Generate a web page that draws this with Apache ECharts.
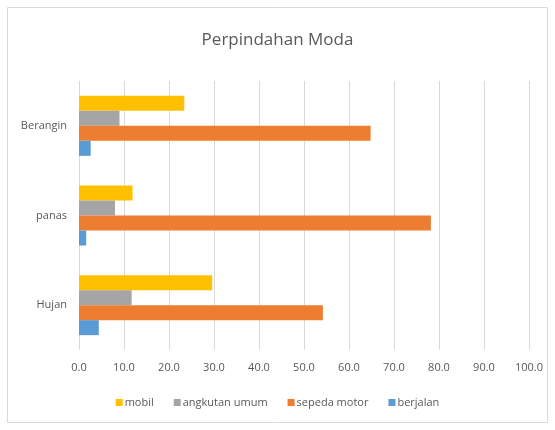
<!DOCTYPE html>
<html>
<head>
    <meta charset="utf-8">
    <title>Perpindahan Moda</title>
    <script src="https://cdn.jsdelivr.net/npm/echarts@6/dist/echarts.min.js"></script>
    <style>
        html, body { margin: 0; padding: 0; background: #fff; }
        #chart { width: 555px; height: 430px; }
    </style>
</head>
<body>
    <div id="chart"></div>
    <script>
        // kategori dari bawah ke atas
        var categories = ['Hujan', 'panas', 'Berangin'];
        var mobil = [29.6, 11.9, 23.4];
        var angkutanUmum = [11.7, 8.0, 9.0];
        var sepedaMotor = [54.2, 78.2, 64.8];
        var berjalan = [4.4, 1.6, 2.6];
        var legendNames = ['mobil', 'angkutan umum', 'sepeda motor', 'berjalan'];

        var textColor = '#595959';
        var fontFamily = '"Open Sans", "Liberation Sans", sans-serif';

        function bar(name, data, color) {
            return {
                name: name,
                type: 'bar',
                data: data,
                barWidth: 15,
                barGap: '0%',
                itemStyle: { color: color }
            };
        }

        var chart = echarts.init(document.getElementById('chart'));
        chart.setOption({
            animation: false,
            textStyle: { fontFamily: fontFamily },
            title: {
                text: 'Perpindahan Moda',
                left: 'center',
                top: 27,
                textStyle: { fontSize: 17, fontWeight: 'normal', color: textColor, fontFamily: fontFamily }
            },
            graphic: [{
                type: 'rect',
                shape: { x: 7.5, y: 7.5, width: 540, height: 415 },
                style: { fill: 'none', stroke: '#d9d9d9', lineWidth: 1 },
                silent: true
            }],
            legend: {
                data: legendNames,
                bottom: 17,
                left: 'center',
                itemWidth: 7,
                itemHeight: 7,
                itemGap: 20,
                icon: 'rect',
                textStyle: { fontSize: 11, color: textColor, padding: [0, 0, 0, -3] }
            },
            grid: { left: 79, right: 26, top: 81, bottom: 80 },
            xAxis: {
                type: 'value',
                min: 0,
                max: 100,
                interval: 10,
                axisLine: { show: false },
                axisTick: { show: false },
                axisLabel: {
                    fontSize: 11,
                    color: textColor,
                    margin: 12,
                    formatter: function (v) { return v.toFixed(1); }
                },
                splitLine: { lineStyle: { color: '#d9d9d9' } }
            },
            yAxis: {
                type: 'category',
                data: categories,
                axisLine: { show: false },
                axisTick: { show: false },
                axisLabel: { fontSize: 11, color: textColor, margin: 12 }
            },
            series: [
                bar('mobil', mobil, '#FFC000'),
                bar('angkutan umum', angkutanUmum, '#A5A5A5'),
                bar('sepeda motor', sepedaMotor, '#ED7D31'),
                bar('berjalan', berjalan, '#5B9BD5')
            ]
        });
    </script>
</body>
</html>
